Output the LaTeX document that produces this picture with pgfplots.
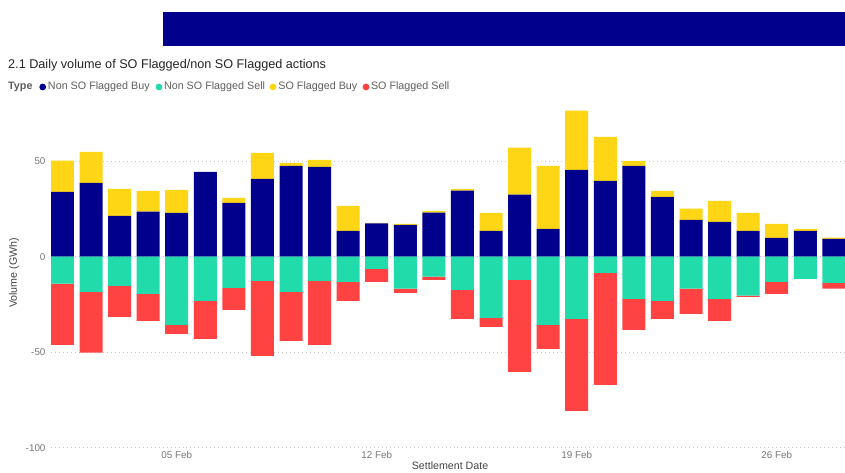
\documentclass[border=0pt]{standalone}
\usepackage{fontspec}
\setmainfont{Liberation Sans}
\usepackage{pgfplots}
\usepackage{pgfplotstable}
\pgfplotsset{compat=1.18}

\definecolor{navybar}{RGB}{0,0,140}
\definecolor{tealbar}{RGB}{33,219,170}
\definecolor{yellowbar}{RGB}{255,214,22}
\definecolor{redbar}{RGB}{255,67,67}
\definecolor{ticktext}{RGB}{118,118,118}
\definecolor{labeltext}{RGB}{68,68,68}
\definecolor{titletext}{RGB}{37,36,35}
\definecolor{legtext}{RGB}{96,94,92}

% day  nonSObuy  nonSOsell  SObuy  SOsell   (GWh)
\pgfplotstableread{
day navy  teal   yellow red
1   33.9  -14.1  16.3  -32.1
2   38.6  -18.4  16.3  -31.9
3   21.4  -15.3  14.1  -16.2
4   23.5  -19.5  10.9  -14.1
5   22.9  -35.7  12.1  -4.7
6   44.4  -23.1  0     -19.9
7   28.2  -16.3  2.6   -11.5
8   40.7  -12.7  13.6  -39.3
9   47.5  -18.4  1.6   -25.7
10  47.0  -12.7  3.7   -33.5
11  13.5  -13.2  13.1  -9.9
12  17.4  -6.4   0.3   -6.8
13  16.6  -16.8  0.5   -2.1
14  23.0  -10.5  1.0   -1.6
15  34.5  -17.4  1.0   -15.2
16  13.5  -32.0  9.4   -4.7
17  32.4  -12.1  24.6  -48.2
18  14.6  -35.7  32.9  -12.6
19  45.4  -32.6  31.0  -48.1
20  39.7  -8.5   23.0  -58.6
21  47.5  -22.1  2.6   -16.2
22  31.3  -23.1  3.1   -9.5
23  19.3  -16.8  5.8   -13.1
24  18.2  -22.1  11.0  -11.5
25  13.5  -20.4  9.4   -0.7
26  9.8   -13.2  7.3   -6.3
27  13.5  -11.6  1.0   0
28  9.3   -13.7  0.7   -3.1
}\voldata

\pgfplotsset{
  base/.style={
    at={(51bp,25.3bp)}, anchor=south west,
    width=794bp, height=347.7bp, scale only axis,
    xmin=0.6, xmax=28.39, ymin=-100, ymax=82,
    ybar stacked, bar width=0.805,
    axis line style={draw=none},
    tick style={draw=none},
  },
}

\begin{document}
\begin{tikzpicture}[x=1bp,y=1bp]
\useasboundingbox (0,0) rectangle (845,473);

% header band
\fill[navybar] (163,426.7) rectangle (845,460.7);

\node[anchor=west, font=\fontsize{12.7}{14}\selectfont, text=titletext, inner sep=0]
  at (8,408) {2.1 Daily volume of SO Flagged/non SO Flagged actions};

% legend row
\begin{scope}[font=\fontsize{10.8}{12}\selectfont, text=legtext]
\node[anchor=west, inner sep=0, font=\fontsize{10.8}{12}\selectfont\bfseries] at (8,386) {Type};
\fill[navybar]   (42.7,386) circle (3.4);
\node[anchor=west, inner sep=0] at (47.8,386) {Non SO Flagged Buy};
\fill[tealbar]   (159,386) circle (3.4);
\node[anchor=west, inner sep=0] at (163.8,386) {Non SO Flagged Sell};
\fill[yellowbar] (273,386) circle (3.4);
\node[anchor=west, inner sep=0] at (278.2,386) {SO Flagged Buy};
\fill[redbar]    (366,386) circle (3.4);
\node[anchor=west, inner sep=0] at (370.8,386) {SO Flagged Sell};
\end{scope}

% buy side (positive stack)
\begin{axis}[base,
  ymajorgrids,
  grid style={dash pattern=on 0.8pt off 3.2pt, gray!45, line width=0.8pt},
  ytick={-100,-50,0,50},
  yticklabels={-100,-50,0,50},
  xtick={5,12,19,26},
  xticklabels={05 Feb,12 Feb,19 Feb,26 Feb},
  tick label style={font=\fontsize{9.9}{11}\selectfont, text=ticktext},
  yticklabel style={xshift=-2bp},
]
\addplot[draw=none, fill=navybar] table[x=day, y=navy] {\voldata};
\addplot[draw=none, fill=yellowbar] table[x=day, y=yellow] {\voldata};
\end{axis}

% sell side (negative stack)
\begin{axis}[base, hide axis]
\addplot[draw=none, fill=tealbar] table[x=day, y=teal] {\voldata};
\addplot[draw=none, fill=redbar] table[x=day, y=red] {\voldata};
\end{axis}

\node[font=\fontsize{10.7}{12}\selectfont, text=labeltext] at (450,7) {Settlement Date};
\node[rotate=90, font=\fontsize{10.7}{12}\selectfont, text=labeltext] at (14,200) {Volume (GWh)};
\end{tikzpicture}
\end{document}
